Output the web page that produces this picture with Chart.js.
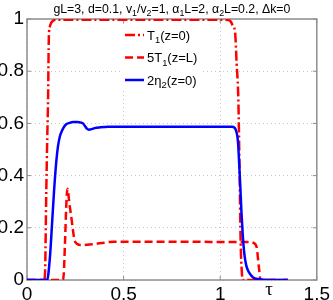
<!DOCTYPE html>
<html><head><meta charset="utf-8">
<script src="https://cdn.jsdelivr.net/npm/chart.js@4.4.0/dist/chart.umd.min.js"></script>
<style>html,body{margin:0;padding:0;background:#fff;}canvas{display:block}</style>
</head><body>
<canvas id="c" width="333" height="300"></canvas>
<script>
const titleText = "gL=3, d=0.1, v₁/v₂=1, α₁L=2, α₂L=0.2, Δk=0";
const xAxisLabel = "τ";
const xTicks = [0, 0.5, 1, 1.5];
const xTickLabels = ["0", "0.5", "1", "1.5"];
const yTicks = [0, 0.2, 0.4, 0.6, 0.8, 1];
const yTickLabels = ["0", "0.2", "0.4", "0.6", "0.8", "1"];
const seriesLabels = ["T₁(z=0)", "5T₁(z=L)", "2η₂(z=0)"];

const tauT1 = [0, 0.088, 0.093, 0.1, 0.105, 0.109, 0.113, 0.118, 0.125, 0.135, 0.15, 0.5, 1.0, 1.04, 1.055, 1.065, 1.077, 1.085, 1.094, 1.1, 1.106, 1.112, 1.117, 1.2, 1.35];
const valT1 = [0, 0, 0.02, 0.35, 0.55, 0.69, 0.93, 0.97, 0.985, 0.993, 0.997, 0.997, 0.997, 0.996, 0.99, 0.975, 0.95, 0.83, 0.69, 0.43, 0.14, 0.03, 0, 0, 0];

const tauT1L = [0, 0.185, 0.19, 0.197, 0.203, 0.209, 0.214, 0.22, 0.229, 0.238, 0.246, 0.26, 0.281, 0.31, 0.349, 0.4, 0.452, 0.6, 1.0, 1.16, 1.171, 1.188, 1.2, 1.209, 1.35];
const valT1L = [0, 0, 0.02, 0.15, 0.28, 0.35, 0.33, 0.29, 0.243, 0.19, 0.153, 0.138, 0.134, 0.135, 0.138, 0.143, 0.147, 0.147, 0.146, 0.146, 0.143, 0.128, 0.051, 0, 0];

const tauEta = [0, 0.105, 0.11, 0.12, 0.13, 0.14, 0.15, 0.16, 0.17, 0.18, 0.19, 0.2, 0.22, 0.24, 0.26, 0.28, 0.29, 0.3, 0.31, 0.32, 0.335, 0.35, 0.38, 0.42, 0.5, 0.8, 1.0, 1.06, 1.075, 1.085, 1.092, 1.098, 1.104, 1.11, 1.117, 1.125, 1.135, 1.15, 1.17, 1.2, 1.25, 1.35];
const valEta = [0, 0, 0.02, 0.1, 0.22, 0.34, 0.44, 0.51, 0.55, 0.57, 0.585, 0.595, 0.602, 0.605, 0.605, 0.603, 0.6, 0.59, 0.58, 0.576, 0.578, 0.582, 0.585, 0.587, 0.587, 0.587, 0.587, 0.587, 0.583, 0.565, 0.53, 0.45, 0.36, 0.26, 0.17, 0.1, 0.055, 0.028, 0.01, 0.003, 0, 0];

const toPts = (xs, ys) => xs.map((x, i) => ({x: x, y: ys[i]}));

const FONT = '"Liberation Sans", Arial, sans-serif';
const SUB = {'₀':'0','₁':'1','₂':'2','₃':'3','₄':'4','₅':'5','₆':'6','₇':'7','₈':'8','₉':'9'};
function drawRich(ctx, text, x, y, size, align) {
  const runs = [];
  for (const ch of text) {
    const sub = SUB[ch] !== undefined;
    const c = sub ? SUB[ch] : ch;
    if (runs.length && runs[runs.length - 1].sub === sub) runs[runs.length - 1].t += c;
    else runs.push({t: c, sub: sub});
  }
  let w = 0;
  runs.forEach(r => { ctx.font = (r.sub ? size * 0.72 : size) + 'px ' + FONT; r.w = ctx.measureText(r.t).width; w += r.w; });
  let cx = align === 'center' ? x - w / 2 : x;
  ctx.textAlign = 'left'; ctx.textBaseline = 'alphabetic';
  runs.forEach(r => {
    ctx.font = (r.sub ? size * 0.72 : size) + 'px ' + FONT;
    ctx.fillText(r.t, cx, y + (r.sub ? size * 0.28 : 0));
    cx += r.w;
  });
}

const framePlugin = {
  id: 'frame',
  beforeDatasetsDraw(chart) {
    const {ctx, chartArea: a, scales} = chart;
    ctx.save();
    ctx.strokeStyle = '#8f8f8f'; ctx.lineWidth = 1.5;
    ctx.strokeRect(a.left, a.top, a.right - a.left, a.bottom - a.top);
    ctx.lineWidth = 1;
    xTicks.forEach(v => {
      const px = scales.x.getPixelForValue(v);
      ctx.beginPath(); ctx.moveTo(px, a.bottom); ctx.lineTo(px, a.bottom - 4);
      ctx.moveTo(px, a.top); ctx.lineTo(px, a.top + 4); ctx.stroke();
    });
    yTicks.forEach(v => {
      const py = scales.y.getPixelForValue(v);
      ctx.beginPath(); ctx.moveTo(a.left, py); ctx.lineTo(a.left + 4, py);
      ctx.moveTo(a.right, py); ctx.lineTo(a.right - 4, py); ctx.stroke();
    });
    ctx.restore();
  },
  afterDatasetsDraw(chart) {
    const {ctx} = chart;
    ctx.save();
    ctx.fillStyle = '#ffffff';
    ctx.fillRect(122, 24, 80, 67);
    const ys = [35, 57.5, 80];
    chart.data.datasets.forEach((ds, i) => {
      ctx.save();
      ctx.strokeStyle = ds.borderColor; ctx.lineWidth = ds.borderWidth;
      ctx.setLineDash(ds.borderDash || []);
      ctx.beginPath(); ctx.moveTo(125, ys[i]); ctx.lineTo(144, ys[i]); ctx.stroke();
      ctx.restore();
      ctx.fillStyle = '#000';
      drawRich(ctx, ds.label, 147, ys[i] + 4.5, 13, 'left');
    });
    ctx.restore();
  },
  afterDraw(chart) {
    const {ctx, chartArea: a} = chart;
    ctx.save();
    ctx.fillStyle = '#000';
    drawRich(ctx, titleText, (a.left + a.right) / 2, 12.5, 12.3, 'center');
    ctx.font = '19px "Liberation Serif", "Times New Roman", serif';
    ctx.textAlign = 'center'; ctx.textBaseline = 'alphabetic';
    ctx.fillText(xAxisLabel, 269, 295);
    ctx.restore();
  }
};

new Chart(document.getElementById('c'), {
  type: 'line',
  data: {
    datasets: [
      {label: seriesLabels[0], data: toPts(tauT1, valT1), borderColor: '#ff0000', borderWidth: 2.5, borderDash: [10, 3, 2, 3], order: 1},
      {label: seriesLabels[1], data: toPts(tauT1L, valT1L), borderColor: '#ff0000', borderWidth: 2.5, borderDash: [8, 4], order: 2},
      {label: seriesLabels[2], data: toPts(tauEta, valEta), borderColor: '#0000ff', borderWidth: 2.5, order: 0}
    ]
  },
  options: {
    responsive: false, animation: false,
    elements: {point: {radius: 0}, line: {cubicInterpolationMode: 'monotone', fill: false}},
    layout: {padding: {top: 19, right: 14, left: 0, bottom: 0}},
    plugins: {legend: {display: false}, title: {display: false}, tooltip: {enabled: false}},
    scales: {
      x: {
        type: 'linear', min: 0, max: 1.5,
        afterBuildTicks: s => { s.ticks = xTicks.map(v => ({value: v})); },
        afterFit: s => { s.height = 20; },
        ticks: {callback: (v, i) => xTickLabels[i], color: '#000', font: {family: FONT, size: 19}, padding: 3, maxRotation: 0, autoSkip: false},
        grid: {color: '#c8c8c8', lineWidth: 1, drawTicks: false},
        border: {display: false, dash: [1, 3]}
      },
      y: {
        type: 'linear', min: 0, max: 1,
        afterBuildTicks: s => { s.ticks = yTicks.map(v => ({value: v})); },
        afterFit: s => { s.width = 27; },
        ticks: {callback: (v, i) => yTickLabels[i], color: '#000', font: {family: FONT, size: 19}, padding: 3, autoSkip: false},
        grid: {color: '#c8c8c8', lineWidth: 1, drawTicks: false},
        border: {display: false, dash: [1, 3]}
      }
    }
  },
  plugins: [framePlugin]
});
</script>
</body></html>
